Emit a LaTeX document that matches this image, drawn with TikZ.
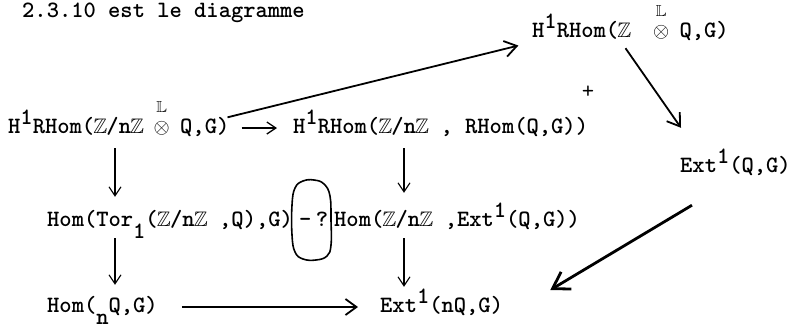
\documentclass[tikz,border=0pt]{standalone}
\usepackage{amssymb}
\usetikzlibrary{arrows.meta}
\newcommand\tyfont{\fontsize{23.4}{28}\selectfont\ttfamily\bfseries}
\newcommand\supx[1]{\raisebox{9pt}{#1}}
\newcommand\subx[1]{\raisebox{-12pt}{#1}}
\newcommand\Zb{\makebox[0.525em]{\fontsize{21}{21}\selectfont$\mathbb{Z}$}}
\newcommand\otL{\makebox[0.525em]{\fontsize{21}{21}\selectfont$\otimes$}\llap{\makebox[0.525em]{\raisebox{21pt}{\fontsize{16}{16}\selectfont$\mathbb{L}$}}}}
\tikzset{
  txt/.style={anchor=base west, inner sep=0pt, text height=15pt, text depth=5pt, font=\tyfont},
  varr/.style={line width=1.1pt, -{Straight Barb[length=9pt,width=12pt]}},
  harr/.style={line width=1.3pt, -{Straight Barb[length=9pt,width=12pt]}},
  hbarr/.style={line width=1.8pt, -{Straight Barb[length=11pt,width=16pt]}},
  darr/.style={line width=1.8pt, -{Straight Barb[length=12pt,width=16pt]}},
  barr/.style={line width=2.8pt, -{Straight Barb[length=16pt,width=20pt]}},
  oval/.style={line width=1.6pt}
}
\begin{document}
\begin{tikzpicture}[x=1pt,y=-1pt]
\useasboundingbox (0,0) rectangle (805,330);
\node[txt] (title) at (22,17) {2.3.10 est le diagramme};
\node[txt] (T) at (532,37) {H\supx{1}RHom(\Zb~~\otL~Q,G)};
\node[txt] (A) at (8,133) {H\supx{1}RHom(\Zb/n\Zb~\otL~Q,G)};
\node[txt] (B) at (293,133) {H\supx{1}RHom(\Zb/n\Zb~,~RHom(Q,G))};
\node[font=\fontsize{24}{24}\selectfont\ttfamily, inner sep=0pt] (P) at (588,92) {+};
\node[txt] (E) at (680,172) {Ext\supx{1}(Q,G)};
\node[txt] (C) at (47,226) {Hom(Tor\subx{1}(\Zb/n\Zb~,Q),G)};
\node[txt] (Q) at (299,226) {-\hspace{4.5pt}?};
\node[txt] (D) at (334,226) {Hom(\Zb/n\Zb~,Ext\supx{1}(Q,G))};
\node[txt] (F) at (47,312) {Hom(\subx{n}Q,G)};
\node[txt] (G) at (380,312) {Ext\supx{1}(nQ,G)};
\coordinate (xl) at (115,0);
\coordinate (xr) at (404,0);
\draw[varr, shorten <=10pt, shorten >=14pt] (A.south -| xl) -- (C.north -| xl);
\draw[varr, shorten <=7pt, shorten >=12pt] (C.south -| xl) -- (F.north -| xl);
\draw[varr, shorten <=10pt, shorten >=18pt] (B.south -| xr) -- (D.north -| xr);
\draw[varr, shorten <=7pt, shorten >=10pt] (D.south -| xr) -- (G.north -| xr);
\draw[harr, shorten <=12pt, shorten >=16pt] (A.east) -- (B.west);
\draw[hbarr, shorten <=24pt, shorten >=22pt] (F.east) -- (G.west);
\draw[darr, shorten <=2pt, shorten >=14pt] ([xshift=-4pt]A.north east) -- (T.south west);
\draw[darr] ([xshift=-5pt,yshift=-6pt]T.south) -- ([xshift=1pt,yshift=29pt]E.north west);
\draw[barr] ([xshift=12pt,yshift=-28pt]E.south west) -- ([xshift=47pt,yshift=17pt]G.east);
\draw[oval] plot[smooth cycle, tension=0.7] coordinates {(292,205) (295,188) (303,181) (314,180) (324,184) (330,196) (331,220) (331,245) (327,256) (316,260) (303,259) (295,252) (292,235)};
\end{tikzpicture}
\end{document}
